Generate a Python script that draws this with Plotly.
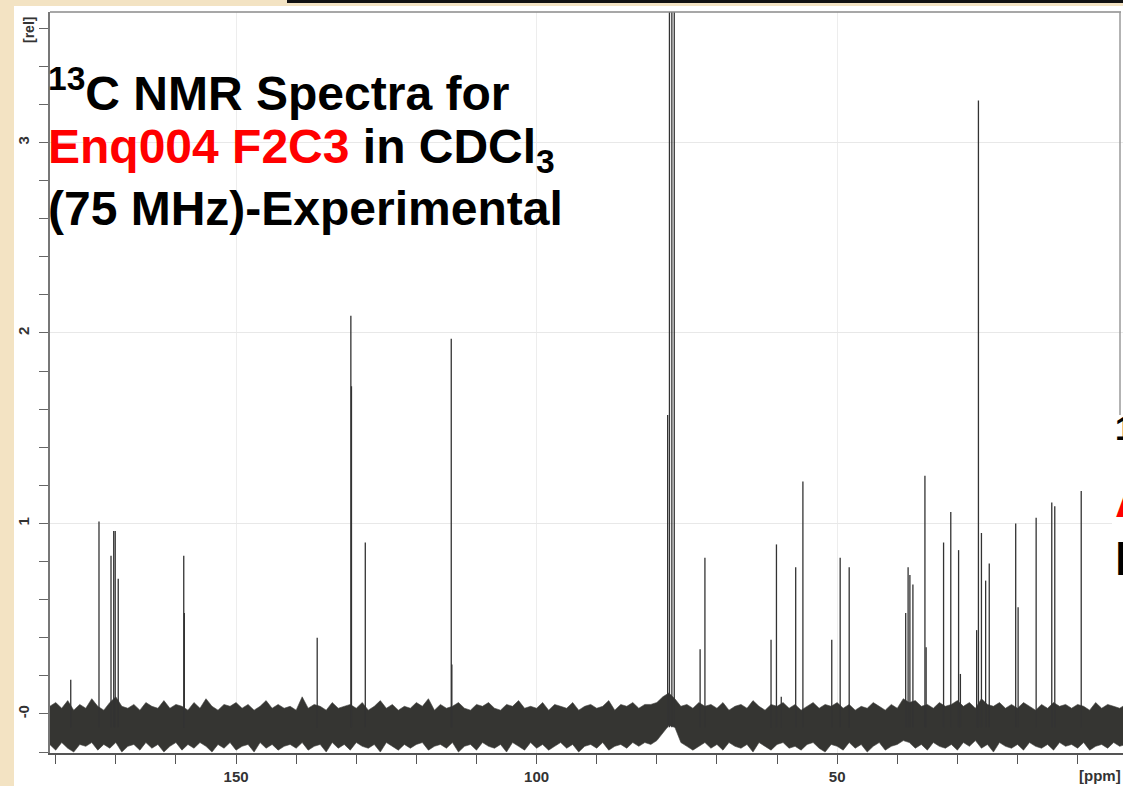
import plotly.graph_objects as go

# ---------------- data ----------------
peak_ppm = [177.5, 172.8, 170.8, 170.35, 170.1, 169.6, 158.7, 158.6, 136.5,
            130.9, 130.8, 128.5, 114.2, 114.1, 78.2, 77.9, 77.5, 77.1,
            72.8, 72.0, 61.0, 60.1, 59.3, 56.9, 55.7, 50.9, 49.5, 48.0,
            38.6, 38.2, 37.9, 37.4, 35.4, 35.2, 32.3, 31.1, 29.8, 29.5,
            26.8, 26.5, 26.0, 25.3, 24.7, 20.3, 19.9, 16.9, 14.3, 13.8, 9.4]
peak_height = [0.18, 1.01, 0.83, 0.96, 0.96, 0.71, 0.83, 0.53, 0.40,
               2.09, 1.72, 0.90, 1.97, 0.26, 1.57, 4.5, 4.6, 4.4,
               0.34, 0.82, 0.39, 0.89, 0.09, 0.77, 1.22, 0.39, 0.82, 0.77,
               0.53, 0.77, 0.73, 0.68, 1.25, 0.35, 0.90, 1.06, 0.86, 0.21,
               0.44, 3.22, 0.95, 0.70, 0.79, 1.00, 0.56, 1.03, 1.11, 1.09, 1.17]
stick_base = -0.07

# baseline noise envelope, sampled every 1 ppm from 181 to 2
noise_ppm = list(range(181, 1, -1))
noise_hi = [0.04, 0.06, 0.03, 0.07, 0.02, 0.05, 0.03, 0.08, 0.04, 0.02,
            0.06, 0.09, 0.04, 0.03, 0.05, 0.02, 0.06, 0.04, 0.03, 0.07,
            0.03, 0.05, 0.04, 0.02, 0.06, 0.03, 0.08, 0.04, 0.02, 0.05,
            0.04, 0.06, 0.03, 0.05, 0.02, 0.04, 0.07, 0.03, 0.05, 0.03,
            0.04, 0.02, 0.09, 0.03, 0.05, 0.04, 0.02, 0.06, 0.03, 0.04,
            0.05, 0.03, 0.06, 0.02, 0.04, 0.07, 0.03, 0.05, 0.02, 0.04,
            0.03, 0.06, 0.04, 0.08, 0.02, 0.05, 0.03, 0.04, 0.06, 0.03,
            0.02, 0.05, 0.04, 0.06, 0.03, 0.02, 0.05, 0.04, 0.07, 0.03,
            0.04, 0.03, 0.06, 0.02, 0.05, 0.04, 0.03, 0.06, 0.02, 0.04,
            0.05, 0.03, 0.04, 0.07, 0.02, 0.05, 0.04, 0.06, 0.03, 0.05,
            0.05, 0.06, 0.09, 0.11, 0.08, 0.04, 0.05, 0.03, 0.06, 0.04,
            0.05, 0.03, 0.06, 0.02, 0.04, 0.05, 0.03, 0.07, 0.04, 0.02,
            0.05, 0.04, 0.06, 0.03, 0.05, 0.02, 0.04, 0.06, 0.03, 0.05,
            0.04, 0.06, 0.03, 0.05, 0.02, 0.04, 0.03, 0.06, 0.04, 0.02,
            0.05, 0.03, 0.08, 0.06, 0.07, 0.04, 0.05, 0.03, 0.06, 0.04,
            0.05, 0.07, 0.04, 0.06, 0.03, 0.08, 0.05, 0.04, 0.06, 0.03,
            0.05, 0.03, 0.06, 0.04, 0.02, 0.05, 0.03, 0.06, 0.04, 0.05,
            0.03, 0.05, 0.04, 0.02, 0.06, 0.03, 0.05, 0.04, 0.03, 0.05]
noise_lo = [-0.16, -0.19, -0.15, -0.18, -0.20, -0.16, -0.17, -0.15, -0.19, -0.16,
            -0.18, -0.15, -0.20, -0.17, -0.16, -0.19, -0.15, -0.18, -0.16, -0.20,
            -0.17, -0.15, -0.19, -0.16, -0.18, -0.15, -0.17, -0.20, -0.16, -0.18,
            -0.15, -0.19, -0.17, -0.16, -0.20, -0.15, -0.18, -0.16, -0.19, -0.17,
            -0.16, -0.18, -0.15, -0.19, -0.17, -0.16, -0.20, -0.15, -0.18, -0.16,
            -0.19, -0.15, -0.17, -0.18, -0.16, -0.20, -0.15, -0.17, -0.19, -0.16,
            -0.18, -0.16, -0.15, -0.19, -0.17, -0.16, -0.18, -0.15, -0.20, -0.17,
            -0.16, -0.19, -0.15, -0.17, -0.18, -0.16, -0.20, -0.15, -0.17, -0.19,
            -0.15, -0.18, -0.16, -0.19, -0.17, -0.15, -0.18, -0.16, -0.20, -0.17,
            -0.16, -0.18, -0.15, -0.19, -0.17, -0.16, -0.18, -0.15, -0.17, -0.15,
            -0.16, -0.14, -0.10, -0.06, -0.07, -0.15, -0.17, -0.19, -0.17, -0.15,
            -0.18, -0.16, -0.19, -0.15, -0.17, -0.18, -0.16, -0.20, -0.15, -0.17,
            -0.19, -0.16, -0.15, -0.18, -0.17, -0.19, -0.16, -0.15, -0.18, -0.20,
            -0.16, -0.17, -0.19, -0.15, -0.18, -0.16, -0.20, -0.17, -0.15, -0.19,
            -0.17, -0.16, -0.14, -0.15, -0.18, -0.16, -0.19, -0.15, -0.17, -0.18,
            -0.16, -0.19, -0.15, -0.17, -0.14, -0.18, -0.16, -0.20, -0.15, -0.17,
            -0.18, -0.16, -0.19, -0.15, -0.17, -0.18, -0.16, -0.19, -0.15, -0.17,
            -0.16, -0.18, -0.15, -0.19, -0.17, -0.16, -0.18, -0.15, -0.17, -0.16]

x_tick_vals = [150, 100, 50]
x_tick_text = ["150", "100", "50"]
y_tick_vals = [0, 1, 2, 3]
y_tick_text = ["-0", "1", "2", "3"]

# ---------------- geometry helpers (layout only) ----------------
W, H = 1123, 786
ML, MR, MT, MB = 50, 0, 12, 33
PW, PH = W - ML - MR, H - MT - MB


def px(p):
    return (p - ML) / PW


def py(q):
    return 1 - (q - MT) / PH


FONT = "Arial, Liberation Sans, sans-serif"

fig = go.Figure()

# noise band
fig.add_trace(go.Scatter(
    x=noise_ppm + noise_ppm[::-1],
    y=noise_hi + noise_lo[::-1],
    fill="toself", fillcolor="#353532",
    line=dict(color="#454542", width=0.6),
    mode="lines", hoverinfo="skip", showlegend=False))

# peak sticks
sx, sy = [], []
for p, h in zip(peak_ppm, peak_height):
    sx += [p, p, None]
    sy += [stick_base, h, None]
fig.add_trace(go.Scatter(x=sx, y=sy, mode="lines",
                         line=dict(color="#333333", width=1.3),
                         hoverinfo="skip", showlegend=False))

tickfont = dict(family=FONT, size=15, color="#333333", weight="bold")

fig.update_xaxes(
    range=[180.95, 2.45], tickmode="array", tickvals=x_tick_vals, ticktext=x_tick_text,
    ticks="outside", ticklen=9, tickwidth=1.2, tickcolor="#555555",
    minor=dict(tick0=0, dtick=10, ticks="outside", ticklen=9, tickwidth=1.2,
               tickcolor="#555555", showgrid=False),
    showgrid=True, gridcolor="#ededed", gridwidth=1, zeroline=False,
    showline=True, linecolor="#555555", linewidth=1.5,
    tickfont=tickfont)

fig.update_yaxes(
    range=[-0.205, 3.685], tickmode="array", tickvals=y_tick_vals, ticktext=y_tick_text,
    ticks="outside", ticklen=9, tickwidth=1.2, tickcolor="#666666",
    minor=dict(tick0=0, dtick=0.2, ticks="outside", ticklen=9, tickwidth=1.2,
               tickcolor="#666666", showgrid=False),
    showgrid=True, gridcolor="#e8e8e8", gridwidth=1, zeroline=False,
    showline=True, linecolor="#777777", linewidth=1.5,
    tickangle=-90, tickfont=tickfont, ticklabelstandoff=4)

BEIGE = "#f3e3c3"
shapes = [
    # beige slide background strips
    dict(type="rect", xref="paper", yref="paper", x0=px(0), x1=px(14), y0=py(H), y1=py(0),
         fillcolor=BEIGE, line=dict(width=0), layer="above"),
    dict(type="rect", xref="paper", yref="paper", x0=px(0), x1=px(W), y0=py(6), y1=py(0),
         fillcolor=BEIGE, line=dict(width=0), layer="above"),
    # black border line at the very top
    dict(type="rect", xref="paper", yref="paper", x0=px(287), x1=px(W), y0=py(3), y1=py(0),
         fillcolor="#111111", line=dict(width=0), layer="above"),
    # plot frame top line
    dict(type="line", xref="paper", yref="paper", x0=px(50), x1=px(1121), y0=1, y1=1,
         line=dict(color="#8a8a8a", width=1.5)),
    # right frame line (upper part)
    dict(type="line", xref="paper", yref="paper", x0=px(1120), x1=px(1120), y0=py(420), y1=1,
         line=dict(color="#9a9a9a", width=1.5)),
    # white box behind the clipped right-hand title
    dict(type="rect", xref="paper", yref="paper", x0=px(1112), x1=px(W + 5), y0=py(590), y1=py(415),
         fillcolor="white", line=dict(width=0), layer="above"),
]

title_font = dict(family=FONT, size=48, color="black", weight="bold")
annotations = [
    dict(text="<sup>13</sup>C NMR Spectra for", x=px(46), y=py(90)),
    dict(text="<span style='color:#ff0000'>Enq004 F2C3</span> in CDCl<sub>3</sub>", x=px(46), y=py(150)),
    dict(text="(75 MHz)-Experimental", x=px(46), y=py(208)),
    dict(text="<sup>13</sup>C NMR Spectra for", x=px(1113), y=py(440)),
    dict(text="<span style='color:#ff0000'>A</span>", x=px(1113), y=py(500)),
    dict(text="P", x=px(1113), y=py(558)),
]
for a in annotations:
    a.update(xref="paper", yref="paper", xanchor="left", yanchor="middle",
             showarrow=False, font=title_font)

annotations += [
    dict(text="[ppm]", x=px(1100), y=py(775), xref="paper", yref="paper",
         xanchor="center", yanchor="middle", showarrow=False,
         font=dict(family=FONT, size=15, color="#333333", weight="bold")),
    dict(text="[rel]", x=px(29), y=py(30), xref="paper", yref="paper",
         xanchor="center", yanchor="middle", showarrow=False, textangle=-90,
         font=dict(family=FONT, size=14, color="#333333", weight="bold")),
]

fig.update_layout(
    width=W, height=H, autosize=False,
    margin=dict(l=ML, r=MR, t=MT, b=MB, pad=0),
    paper_bgcolor="white", plot_bgcolor="white",
    showlegend=False, shapes=shapes, annotations=annotations,
)

fig.write_html("out.html")
